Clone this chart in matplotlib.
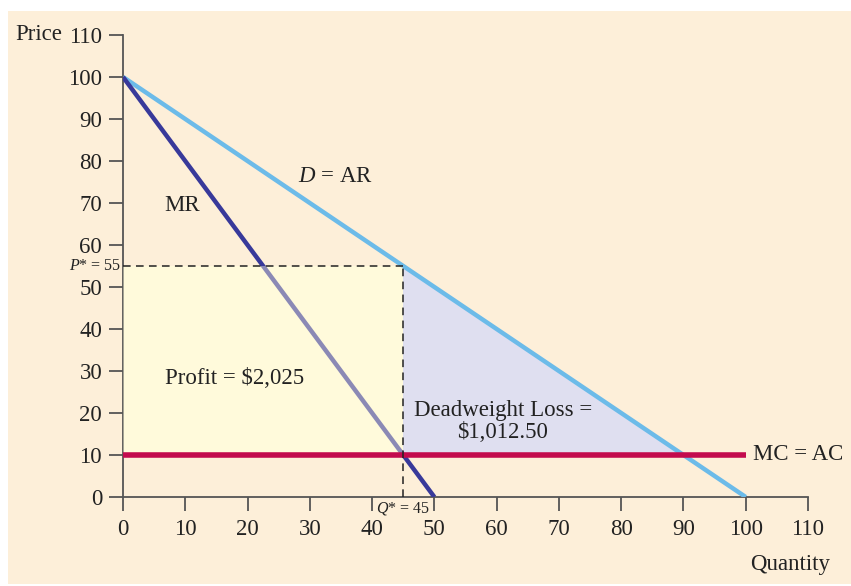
import numpy as np
import matplotlib.pyplot as plt
from matplotlib.patches import Rectangle, Polygon

# datos
cantidad_d = [0, 100]
precio_d = [100, 0]          # D = AR
cantidad_mr = [0, 50]
precio_mr = [100, 0]         # MR
cantidad_mc = [0, 100]
precio_mc = [10, 10]         # MC = AC
q_opt = 45
p_opt = 55
ticks = list(range(0, 111, 10))

plt.rcParams['font.family'] = ['Liberation Serif', 'DejaVu Serif']
plt.rcParams['mathtext.fontset'] = 'custom'
plt.rcParams['mathtext.rm'] = 'Liberation Serif'
plt.rcParams['mathtext.it'] = 'Liberation Serif:italic'

fig = plt.figure(figsize=(8.51, 5.86), dpi=100)
fig.patch.set_facecolor('white')
# fondo crema
fig.patches.append(Rectangle((8 / 851, 0.003), 1, 1 - 11 / 586 - 0.003, transform=fig.transFigure,
                             facecolor='#fdefd9', edgecolor='none', zorder=-10))

ax = fig.add_axes([123 / 851, 1 - 497 / 586, (808 - 123) / 851, (497 - 35) / 586])
ax.set_facecolor('none')
ax.set_xlim(0, 110)
ax.set_ylim(0, 110)

amarillo = '#fffadb'
# area de ganancia
ax.add_patch(Rectangle((0, precio_mc[0]), q_opt, p_opt - precio_mc[0], facecolor=amarillo,
                       edgecolor='none', zorder=1))
# perdida de peso muerto
q_eff = np.interp(precio_mc[0], precio_d[::-1], cantidad_d[::-1])
ax.add_patch(Polygon([(q_opt, p_opt), (q_opt, precio_mc[0]), (q_eff, precio_mc[0])],
                     closed=True, facecolor='#dfdff0', edgecolor='none', zorder=1))

ax.plot(cantidad_d, precio_d, color='#6cbbe9', lw=3.2, zorder=3, solid_capstyle='butt')
ax.plot(cantidad_mr, precio_mr, color='#38399a', lw=3.2, zorder=3, solid_capstyle='butt')
# la ganancia tapa un poco la MR
ax.add_patch(Rectangle((0, precio_mc[0]), q_opt, p_opt - precio_mc[0], facecolor=amarillo,
                       edgecolor='none', alpha=0.42, zorder=4))
ax.plot(cantidad_mc, precio_mc, color='#c30b4d', lw=4, zorder=5, solid_capstyle='butt')

# lineas punteadas
ax.plot([0, q_opt], [p_opt, p_opt], color='#222222', lw=1.1, ls=(0, (5, 3.5)), zorder=6)
ax.plot([q_opt, q_opt], [0, p_opt], color='#222222', lw=1.1, ls=(0, (5, 3.5)), zorder=6)

for s in ['top', 'right']:
    ax.spines[s].set_visible(False)
for s in ['left', 'bottom']:
    ax.spines[s].set_color('#555555')
    ax.spines[s].set_linewidth(1.3)
ax.set_xticks(ticks)
ax.set_yticks(ticks)
ax.tick_params(length=10, width=1.3, color='#555555', labelsize=16.5, labelcolor='#222222')
ax.tick_params(axis='x', pad=6)
ax.tick_params(axis='y', pad=5)

txt = dict(fontsize=16.5, color='#222222', zorder=10)
ax.text(-9.8, 110, 'Price', ha='right', va='center', clip_on=False, **txt)
ax.text(113.5, -16, 'Quantity', ha='right', va='center', clip_on=False, **txt)
ax.text(-0.3, p_opt, r'$P$* = 55', fontsize=11.5, color='#222222', ha='right', va='center', zorder=10)
ax.text(q_opt, -2.7, r'$Q$* = 45', fontsize=11.5, color='#222222', ha='center', va='center',
        zorder=10, clip_on=False)

ax.text(6.7, 69.4, 'MR', va='center', **txt)
ax.text(28.1, 76.3, r'$D$ = AR', va='center', **txt)
ax.text(6.7, 28.3, 'Profit = $2,025', va='center', **txt)
ax.text(61, 18, 'Deadweight Loss =\n$1,012.50', ha='center', va='center', linespacing=1.1, **txt)
ax.text(101.1, 10, 'MC = AC', va='center', clip_on=False, **txt)

fig.savefig('out.png', dpi=100, facecolor=fig.get_facecolor())
